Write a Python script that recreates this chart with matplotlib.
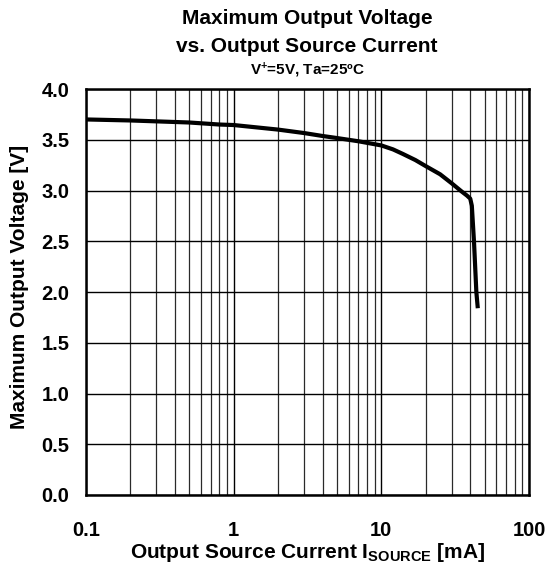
import numpy as np
import matplotlib
matplotlib.use("Agg")
import matplotlib.pyplot as plt
from matplotlib.ticker import FixedLocator, NullFormatter, FixedFormatter

plt.rcParams['font.family'] = ['Liberation Sans', 'DejaVu Sans']
plt.rcParams['font.weight'] = 'bold'
plt.rcParams['mathtext.fontset'] = 'custom'
plt.rcParams['mathtext.rm'] = 'Liberation Sans:bold'
plt.rcParams['mathtext.bf'] = 'Liberation Sans:bold'
plt.rcParams['mathtext.it'] = 'Liberation Sans:bold'

# Data
current_mA = [0.1, 0.2, 0.5, 0.8, 1, 2, 3, 4, 5, 7, 10, 12, 14, 17, 20, 25, 30, 35, 38,
              40, 41, 42.4, 44, 45]
voltage_V = [3.70, 3.69, 3.67, 3.65, 3.645, 3.60, 3.566, 3.537, 3.517, 3.485, 3.444,
             3.405, 3.36, 3.30, 3.24, 3.16, 3.07, 2.99, 2.95, 2.92, 2.85, 2.5, 2.0, 1.84]

x_ticks = [0.1, 1, 10, 100]
x_ticklabels = ["0.1", "1", "10", "100"]
y_ticks = [0.0, 0.5, 1.0, 1.5, 2.0, 2.5, 3.0, 3.5, 4.0]
y_ticklabels = ["0.0", "0.5", "1.0", "1.5", "2.0", "2.5", "3.0", "3.5", "4.0"]

W, H = 546, 565
L, R, T, B = 86, 529, 89, 495
fig = plt.figure(figsize=(W / 100, H / 100), dpi=100)
ax = fig.add_axes([L / W, 1 - B / H, (R - L) / W, (B - T) / H])

ax.plot(current_mA, voltage_V, color='black', lw=3.0, solid_capstyle='butt',
        solid_joinstyle='round', zorder=3)

ax.set_xscale('log')
ax.set_xlim(0.1, 100)
ax.set_ylim(0, 4.0)
ax.xaxis.set_major_locator(FixedLocator(x_ticks))
ax.xaxis.set_major_formatter(FixedFormatter(x_ticklabels))
minors = [m * d for d in [0.1, 1, 10] for m in range(2, 10)]
ax.xaxis.set_minor_locator(FixedLocator(minors))
ax.xaxis.set_minor_formatter(NullFormatter())
ax.yaxis.set_major_locator(FixedLocator(y_ticks))
ax.yaxis.set_major_formatter(FixedFormatter(y_ticklabels))

ax.grid(which='major', color='black', lw=1.0)
ax.grid(which='minor', axis='x', color='#2a2a2a', lw=0.9)
ax.tick_params(which='both', length=0, labelsize=14.5)
ax.tick_params(axis='x', pad=19)
ax.tick_params(axis='y', pad=12)
for lab in ax.get_xticklabels() + ax.get_yticklabels():
    lab.set_fontweight('bold')
for s in ax.spines.values():
    s.set_linewidth(1.8)

ax.set_xlabel(r'Output Source Current I$_{\mathbf{SOURCE}}$ [mA]', fontsize=15, fontweight='bold')
ax.set_ylabel('Maximum Output Voltage [V]', fontsize=15, fontweight='bold')
ax.xaxis.set_label_coords((307.5 - L) / (R - L), (B - 552) / (B - T))
ax.yaxis.set_label_coords((20 - L) / (R - L), (B - 287) / (B - T))
ax.xaxis.label.set_va('center')
ax.yaxis.label.set_va('center')

cx = 307 / W
fig.text(cx, 1 - 19 / H, 'Maximum Output Voltage', ha='center', va='center', fontsize=15, fontweight='bold')
fig.text(cx, 1 - 47 / H, 'vs. Output Source Current', ha='center', va='center', fontsize=15, fontweight='bold')
fig.text(cx, 1 - 70 / H, r'V$^{+}$=5V, Ta=25ºC', ha='center', va='center', fontsize=11, fontweight='bold')

fig.savefig('out.png', dpi=100)
